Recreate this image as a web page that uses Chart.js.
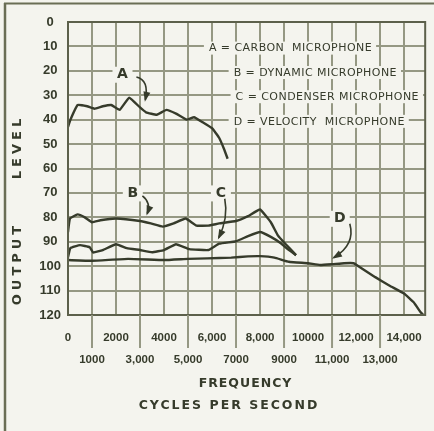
<!DOCTYPE html>
<html><head><meta charset="utf-8">
<script src="https://cdn.jsdelivr.net/npm/chart.js@4.4.1/dist/chart.umd.min.js"></script>
<style>html,body{margin:0;padding:0;background:#f4f4ee;}canvas{display:block}</style>
</head><body>
<canvas id="c" width="434" height="431"></canvas>
<script>
// ---- data ----
const xTickValues = [0,1000,2000,3000,4000,5000,6000,7000,8000,9000,10000,11000,12000,13000,14000];
const xTickLabels = ['0','1000','2000','3,000','4000','5,000','6,000','7000','8,000','9000','10000','11,000','12,000','13,000','14,000'];
const yTickValues = [0,10,20,30,40,50,60,70,80,90,100,110,120];

const seriesNames = ['A = CARBON  MICROPHONE','B = DYNAMIC MICROPHONE','C = CONDENSER MICROPHONE','D = VELOCITY  MICROPHONE'];
const seriesLetters = ['A','B','C','D'];

const carbonFreq  = [0,100,400,800,1100,1450,1800,2150,2550,3000,3250,3700,4100,4500,4950,5250,5600,6000,6300,6500,6650];
const carbonLevel = [43,40,34,34.5,35.5,34.5,34,36,31,35,37,38,36,37.5,40,39,41,43.5,47.5,52,56];

const dynamicFreq  = [0,80,400,700,1000,1350,2000,3000,3450,3950,4400,4900,5350,5850,6300,7000,7500,8000,8450,8750,9050,9500];
const dynamicLevel = [86,80.5,78.8,80,82,81.2,80.5,81.5,82.5,83.8,82.5,80.5,83.4,83.4,82.5,81.5,79.5,76.8,82,87.5,90.8,95.5];

const condenserFreq  = [0,100,500,900,1050,1450,2000,2450,3000,3500,4000,4500,5050,5850,6300,7000,7500,8000,8450,8850,9150,9500];
const condenserLevel = [96.3,92.6,91.4,92.2,94.4,93.4,91,92.6,93.4,94.3,93.4,91,93,93.4,90.8,89.8,87.7,86,88,90.5,93,95.5];

const velocityFreq  = [0,1000,2500,4000,5000,5800,6800,7500,8000,8600,9200,10000,10500,11000,11500,11900,12100,12800,13400,14000,14400,14700,14800];
const velocityLevel = [97.5,97.8,97,97.5,97,96.8,96.5,96,95.9,96.5,98.2,98.8,99.5,99.2,98.8,98.8,100,104.5,108,111.2,114.8,119,120];

// ---- styling ----
const INK = '#363b2b';
const GRID = '#959883';
const FRAME = '#5c604b';
const NUMFONT = '"Liberation Sans",Arial,sans-serif';
const TXTFONT = '"DejaVu Sans",sans-serif';

function pts(fx, ly){ return fx.map((f,i)=>({x:f, y:ly[i]})); }
function ds(data){ return {data, borderColor:INK, borderWidth:2.4, pointRadius:0, tension:0.1, fill:false}; }

function spacedText(ctx, txt, x, y, spacing, align){
  ctx.save();
  if ('letterSpacing' in ctx) {
    ctx.letterSpacing = spacing + 'px';
    const w = ctx.measureText(txt).width;
    let sx = align === 'center' ? x - w/2 + spacing/2 : x;
    ctx.textAlign = 'left';
    ctx.fillText(txt, sx, y);
  } else {
    let w = 0; for (const ch of txt) w += ctx.measureText(ch).width + spacing;
    let sx = align === 'center' ? x - w/2 : x;
    ctx.textAlign = 'left';
    for (const ch of txt){ ctx.fillText(ch, sx, y); sx += ctx.measureText(ch).width + spacing; }
  }
  ctx.restore();
}
function textWidth(ctx, txt, spacing){
  return ctx.measureText(txt).width + spacing * txt.length;
}

function arrow(ctx, p0, p1, p2){
  ctx.save();
  ctx.strokeStyle = INK; ctx.fillStyle = INK; ctx.lineWidth = 1.6;
  ctx.beginPath(); ctx.moveTo(p0[0],p0[1]); ctx.quadraticCurveTo(p1[0],p1[1],p2[0],p2[1]); ctx.stroke();
  const a = Math.atan2(p2[1]-p1[1], p2[0]-p1[0]);
  const L = 8, W = 3.5;
  ctx.beginPath();
  ctx.moveTo(p2[0]+Math.cos(a)*2, p2[1]+Math.sin(a)*2);
  ctx.lineTo(p2[0]-Math.cos(a)*L + Math.sin(a)*W, p2[1]-Math.sin(a)*L - Math.cos(a)*W);
  ctx.lineTo(p2[0]-Math.cos(a)*L - Math.sin(a)*W, p2[1]-Math.sin(a)*L + Math.cos(a)*W);
  ctx.closePath(); ctx.fill();
  ctx.restore();
}

const decor = {
  id: 'decor',
  beforeDraw(chart){
    const ctx = chart.ctx;
    ctx.save();
    ctx.fillStyle = '#f4f4ee'; ctx.fillRect(0,0,chart.width,chart.height);
    ctx.strokeStyle = '#6a6e55';
    ctx.lineWidth = 2; ctx.beginPath(); ctx.moveTo(4,3.5); ctx.lineTo(chart.width,3.5); ctx.stroke();
    ctx.lineWidth = 2.5; ctx.beginPath(); ctx.moveTo(5,3); ctx.lineTo(5,chart.height); ctx.stroke();
    ctx.restore();
  },
  afterDraw(chart){
    const ctx = chart.ctx, xs = chart.scales.x, ys = chart.scales.y, ca = chart.chartArea;
    const px = v => xs.getPixelForValue(v), py = v => ys.getPixelForValue(v);
    ctx.save();
    // plot frame
    ctx.strokeStyle = FRAME; ctx.lineWidth = 2;
    ctx.strokeRect(ca.left, ca.top, ca.right-ca.left, ca.bottom-ca.top);
    // odd-thousand extension lines below the plot
    ctx.strokeStyle = GRID; ctx.lineWidth = 2;
    xTickValues.forEach(v => { if ((v/1000)%2===1){ ctx.beginPath(); ctx.moveTo(px(v), ca.bottom); ctx.lineTo(px(v), ca.bottom+33); ctx.stroke(); } });

    // legend rows sitting on grid lines
    ctx.fillStyle = INK; ctx.textBaseline = 'middle';
    ctx.font = '500 11px ' + TXTFONT;
    const legendAt = [[5870,10.9],[6900,20.9],[6980,30.8],[6900,40.9]];
    seriesNames.forEach((t,i) => {
      const x = px(legendAt[i][0]), y = py(legendAt[i][1]);
      const w = textWidth(ctx, t, 0.45);
      ctx.fillStyle = '#f4f4ee'; ctx.fillRect(x-5, y-7, w+9, 13);
      ctx.fillStyle = INK; spacedText(ctx, t, x, y, 0.45, 'left');
    });

    // letter callouts with arrows
    ctx.font = 'bold 14px ' + TXTFONT;
    const callouts = [
      {at:[2270,21.6], a:[[2850,22.5],[3390,23.7],[3220,31.9]]},
      {at:[2700,70.2], a:[[3100,71.2],[3470,74],[3300,78.5]]},
      {at:[6370,70.2], a:[[6530,72.4],[6690,80.2],[6280,88.3]]},
      {at:[11320,80.6], a:[[11740,82.6],[11980,91.2],[11070,96.5]]}
    ];
    callouts.forEach((c,i) => {
      const x = px(c.at[0]), y = py(c.at[1]);
      ctx.fillStyle = '#f4f4ee'; ctx.fillRect(x-10, y-8, 20, 16);
      ctx.fillStyle = INK; ctx.textAlign = 'center'; ctx.fillText(seriesLetters[i], x, y);
      const P = p => [px(p[0]), py(p[1])];
      arrow(ctx, P(c.a[0]), P(c.a[1]), P(c.a[2]));
    });

    // axis titles
    ctx.fillStyle = INK; ctx.textBaseline = 'middle';
    ctx.font = '600 12.5px ' + TXTFONT;
    spacedText(ctx, 'FREQUENCY', 245, 384, 1.0, 'center');
    spacedText(ctx, 'CYCLES PER SECOND', 228, 406, 2.0, 'center');
    ctx.save();
    ctx.translate(18, 212); ctx.rotate(-Math.PI/2);
    ctx.font = 'bold 13px ' + TXTFONT;
    spacedText(ctx, 'OUTPUT     LEVEL', 0, 0, 4.0, 'center');
    ctx.restore();
    ctx.restore();
  }
};

new Chart(document.getElementById('c'), {
  type: 'line',
  data: { datasets: [
    ds(pts(carbonFreq, carbonLevel)),
    ds(pts(dynamicFreq, dynamicLevel)),
    ds(pts(condenserFreq, condenserLevel)),
    ds(pts(velocityFreq, velocityLevel))
  ]},
  options: {
    responsive: false, animation: false,
    layout: { padding: { top: 22, right: 6, left: 0, bottom: 0 } },
    plugins: { legend: { display: false }, tooltip: { enabled: false } },
    scales: {
      x: {
        type: 'linear', min: 0, max: 14880,
        afterBuildTicks: s => { s.ticks = xTickValues.map(v => ({value: v})); },
        afterFit: s => { s.height = 116; },
        grid: { color: GRID, lineWidth: 2, drawTicks: false },
        border: { display: true, color: FRAME, width: 2 },
        ticks: {
          autoSkip: false, maxRotation: 0, minRotation: 0, padding: 12, color: INK,
          font: { family: NUMFONT, size: 11.5, weight: 'bold', lineHeight: 1.9 },
          callback: v => { const k = xTickValues.indexOf(v); const l = xTickLabels[k]; return (v/1000)%2 ? ['', l] : l; }
        }
      },
      y: {
        min: 0, max: 120, reverse: true,
        afterBuildTicks: s => { s.ticks = yTickValues.map(v => ({value: v})); },
        afterFit: s => { s.width = 68; },
        grid: { color: GRID, lineWidth: 2, drawTicks: false },
        border: { display: true, color: FRAME, width: 2 },
        ticks: { padding: 7, crossAlign: 'center', color: INK, font: { family: NUMFONT, size: 13, weight: 'bold' } }
      }
    }
  },
  plugins: [decor]
});
</script>
</body></html>
